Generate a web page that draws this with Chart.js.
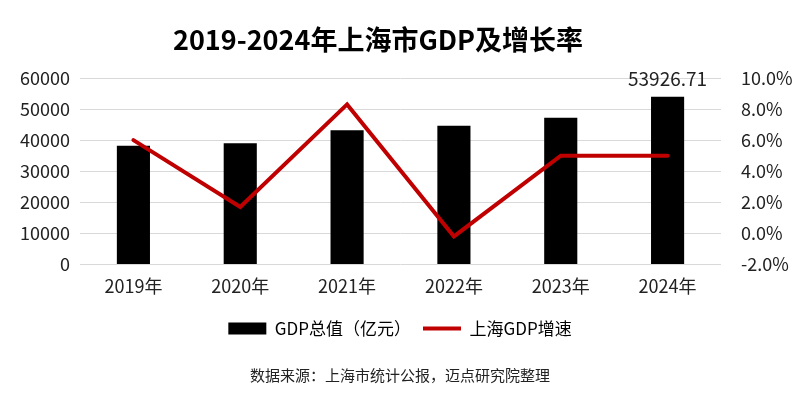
<!DOCTYPE html>
<html>
<head>
<meta charset="utf-8">
<script src="https://cdn.jsdelivr.net/npm/chart.js@4.4.1/dist/chart.umd.min.js"></script>
<style>
  html, body { margin: 0; padding: 0; background: #fff; }
  #wrap { width: 800px; height: 394px; }
</style>
</head>
<body>
<div id="wrap"><canvas id="c" width="800" height="394"></canvas></div>
<script>
const chartTitle = '2019-2024年上海市GDP及增长率';
const years = ['2019年', '2020年', '2021年', '2022年', '2023年', '2024年'];
const gdpValues = [38155, 38963, 43215, 44653, 47219, 53926.71];
const growthRates = [6.0, 1.7, 8.3, -0.2, 5.0, 5.0];
const gdpTicks = [0, 10000, 20000, 30000, 40000, 50000, 60000];
const rateTicks = [-2, 0, 2, 4, 6, 8, 10];
const labeledBars = [5];

const FONT = '"Noto Sans CJK SC", "Noto Sans", sans-serif';

// 标题略偏左，自己画
const titlePlugin = {
    id: 'leftTitle',
    afterDraw(chart) {
        const ctx = chart.ctx;
        ctx.save();
        ctx.font = 'bold 27px ' + FONT;
        ctx.fillStyle = '#000';
        ctx.textAlign = 'center';
        ctx.textBaseline = 'middle';
        ctx.fillText(chartTitle, 378, 40);
        ctx.restore();
    }
};

// 只在2024年柱子上方标注数值
const barLabelPlugin = {
    id: 'barLabel',
    afterDatasetsDraw(chart) {
        const meta = chart.getDatasetMeta(1);
        const ctx = chart.ctx;
        ctx.save();
        ctx.font = '19px ' + FONT;
        ctx.fillStyle = '#222';
        ctx.textAlign = 'center';
        ctx.textBaseline = 'bottom';
        labeledBars.forEach(i => {
            const bar = meta.data[i];
            ctx.fillText(gdpValues[i].toFixed(2), bar.x, bar.y - 9);
        });
        ctx.restore();
    }
};

new Chart(document.getElementById('c'), {
    data: {
        labels: years,
        datasets: [
            {
                type: 'line',
                label: '上海GDP增速',
                data: growthRates,
                yAxisID: 'yR',
                borderColor: '#c00000',
                borderWidth: 4,
                pointRadius: 0,
                tension: 0,
                borderCapStyle: 'round',
                order: 0
            },
            {
                type: 'bar',
                label: 'GDP总值（亿元）',
                data: gdpValues,
                yAxisID: 'yL',
                backgroundColor: '#000',
                categoryPercentage: 1,
                barPercentage: 0.31,
                order: 1
            }
        ]
    },
    options: {
        responsive: false,
        animation: false,
        devicePixelRatio: 1,
        layout: { padding: { left: 0, right: 0, top: 78, bottom: 10 } },
        plugins: {
            title: { display: false },
            subtitle: {
                display: true,
                position: 'bottom',
                text: '数据来源：上海市统计公报，迈点研究院整理',
                color: '#222',
                font: { family: FONT, size: 15 },
                padding: { top: 19, bottom: 0 }
            },
            legend: {
                position: 'bottom',
                labels: {
                    usePointStyle: true,
                    pointStyleWidth: 38,
                    boxHeight: 12,
                    padding: 12,
                    color: '#222',
                    font: { family: FONT, size: 17 },
                    generateLabels(chart) {
                        return [
                            { text: 'GDP总值（亿元）', pointStyle: 'rect', fillStyle: '#000', strokeStyle: '#000', lineWidth: 0, datasetIndex: 1 },
                            { text: '上海GDP增速', pointStyle: 'line', fillStyle: '#c00000', strokeStyle: '#c00000', lineWidth: 4, datasetIndex: 0 }
                        ];
                    }
                }
            },
            tooltip: { enabled: false }
        },
        scales: {
            x: {
                grid: { display: false, drawTicks: false },
                border: { display: false },
                ticks: { color: '#222', font: { family: FONT, size: 18 }, padding: 11 }
            },
            yL: {
                position: 'left',
                min: 0, max: 60000,
                afterBuildTicks(axis) { axis.ticks = gdpTicks.map(v => ({ value: v })); },
                afterFit(axis) { axis.width = 80; },
                grid: { color: '#d9d9d9', drawTicks: false },
                border: { display: false },
                ticks: { color: '#222', font: { family: FONT, size: 18 }, padding: 10, callback: v => String(v) }
            },
            yR: {
                position: 'right',
                min: -2, max: 10,
                afterBuildTicks(axis) { axis.ticks = rateTicks.map(v => ({ value: v })); },
                afterFit(axis) { axis.width = 79; },
                grid: { display: false },
                border: { display: false },
                ticks: {
                    color: '#222', font: { family: FONT, size: 18 }, padding: 12,
                    callback: v => v.toFixed(1) + '%'
                }
            }
        }
    },
    plugins: [barLabelPlugin, titlePlugin]
});
</script>
</body>
</html>
